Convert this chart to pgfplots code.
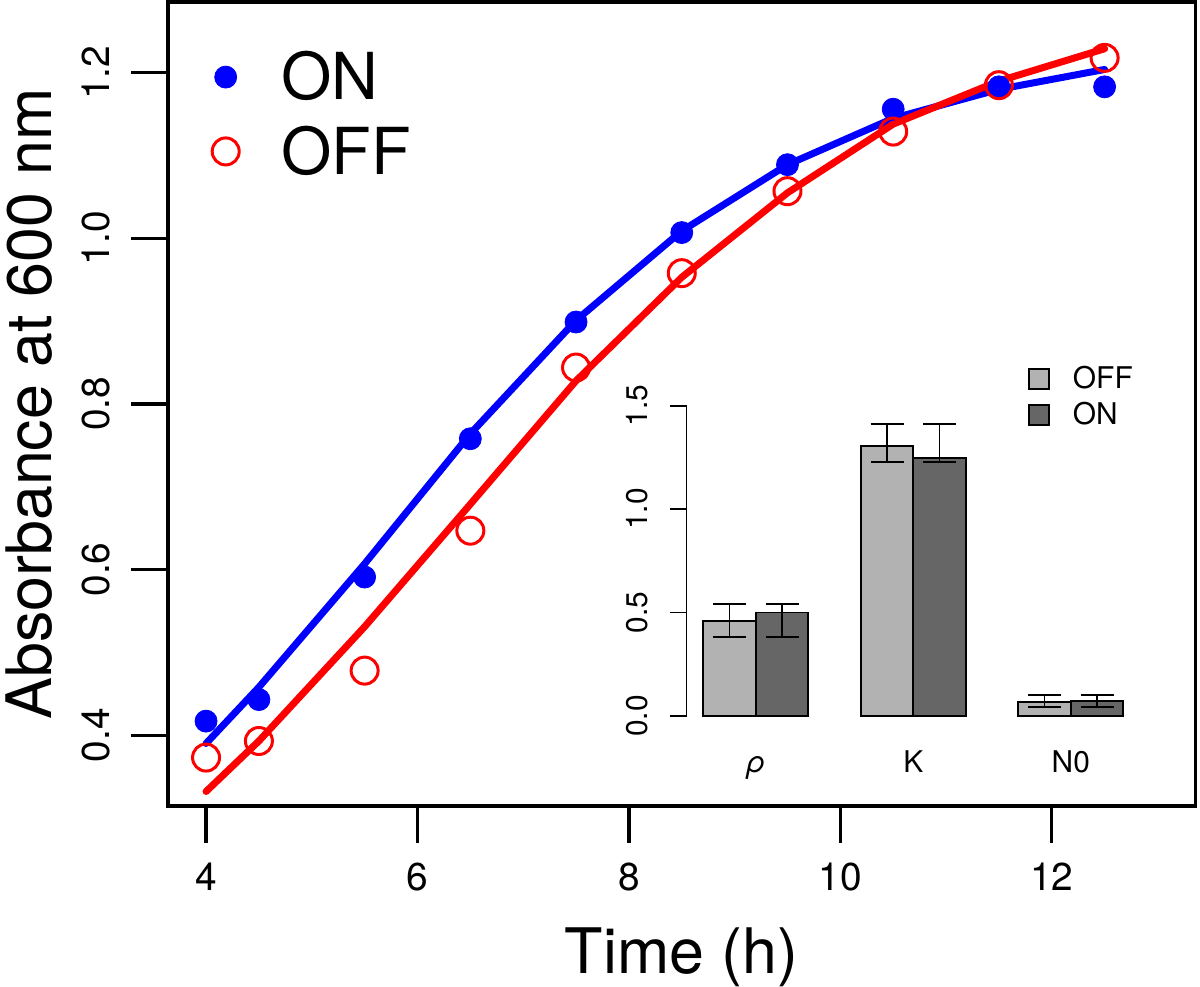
\documentclass[border=0pt]{standalone}
\usepackage{fontspec}
\setmainfont{TeX Gyre Heros}
\usepackage{pgfplots}
\pgfplotsset{compat=1.18}
\definecolor{offgray}{gray}{0.70}
\definecolor{ongray}{gray}{0.40}
\definecolor{rblue}{RGB}{0,0,255}
\definecolor{rred}{RGB}{255,0,0}
\begin{document}
\begin{tikzpicture}[x=1bp,y=1bp]
\path[use as bounding box] (-84,-90.5) rectangle (516,403);
\begin{axis}[
  at={(0bp,0bp)}, anchor=south west,
  scale only axis, width=513.75bp, height=402bp,
  xmin=3.64, xmax=13.36, ymin=0.3145, ymax=1.2855,
  xtick={4,6,8,10,12}, ytick={0.4,0.6,0.8,1.0,1.2},
  xtick pos=lower, ytick pos=left,
  tick align=outside, major tick length=18.5bp,
  axis line style={line width=1.6bp},
  every tick/.style={black, line width=1.6bp},
  tick label style={font=\fontsize{19.5}{22}\selectfont},
  /pgf/number format/assume math mode=true,
  yticklabel={\pgfmathprintnumber[fixed,fixed zerofill,precision=1]{\tick}},
  yticklabel style={rotate=90, anchor=south, inner sep=0pt},
  xticklabel style={anchor=north, inner sep=0pt},
  xticklabel shift=10bp, yticklabel shift=10.5bp,
  xlabel={Time (h)}, ylabel={Absorbance at 600 nm},
  label style={font=\fontsize{31.5}{36}\selectfont},
  xlabel style={at={(axis description cs:0.5,0)}, anchor=base, yshift=-83.5bp},
  ylabel style={at={(axis description cs:-0.1119,0.5)}, anchor=south, inner sep=0pt},
  legend style={at={(axis description cs:0.03,0.985)}, anchor=north west, draw=none, fill=none,
     xshift=1.5bp, yshift=-14.5bp,
     font=\fontsize{32.5}{36}\selectfont, row sep=7.5bp},
  legend cell align=left,
  legend image code/.code={\path (-8bp,0bp) (25bp,0bp); \draw[mark repeat=2,mark phase=2,#1] plot coordinates {(-1bp,0bp) (0bp,0bp) (1bp,0bp)};},
  clip=false,
]
\addplot[only marks, mark=*, mark size=5.5bp, color=rblue] coordinates {
 (4,0.417) (4.5,0.443) (5.5,0.591) (6.5,0.758) (7.5,0.899) (8.5,1.007) (9.5,1.089) (10.5,1.156) (11.5,1.183) (12.5,1.183)};
\addlegendentry{ON}
\addplot[forget plot, color=rblue, line width=3.5bp, line cap=round, line join=round] coordinates {
 (4,0.390) (4.5,0.458) (5.5,0.607) (6.5,0.764) (7.5,0.901) (8.5,1.009) (9.5,1.089) (10.5,1.145) (11.5,1.180) (12.5,1.204)};
\addplot[only marks, mark=o, mark size=6.75bp, color=rred, line width=1.5bp] coordinates {
 (4,0.373) (4.5,0.393) (5.5,0.478) (6.5,0.647) (7.5,0.844) (8.5,0.958) (9.5,1.057) (10.5,1.129) (11.5,1.185) (12.5,1.218)};
\addlegendentry{OFF}
\addplot[forget plot, color=rred, line width=3.5bp, line cap=round, line join=round] coordinates {
 (4,0.332) (4.5,0.393) (5.5,0.531) (6.5,0.679) (7.5,0.828) (8.5,0.953) (9.5,1.055) (10.5,1.138) (11.5,1.190) (12.5,1.229)};
\end{axis}
\begin{axis}[
  at={(259.25bp,45bp)}, anchor=south west,
  scale only axis, width=226.8bp, height=155.15bp,
  xmin=0.68, xmax=9.32, ymin=0, ymax=1.5,
  axis y line*=left, axis x line*=bottom,
  x axis line style={draw=none}, xtick style={draw=none},
  y axis line style={line width=0.9bp},
  ytick={0,0.5,1.0,1.5}, ytick style={black, line width=0.9bp},
  tick align=outside, major tick length=8.3bp,
  tick label style={font=\fontsize{15}{17}\selectfont},
  /pgf/number format/assume math mode=true,
  yticklabel={\pgfmathprintnumber[fixed,fixed zerofill,precision=1]{\tick}},
  yticklabel style={rotate=90, anchor=south, inner sep=0pt},
  yticklabel shift=11bp,
  xtick={2,5,8}, xticklabels={\textit{ρ},K,N0},
  xticklabel style={font=\fontsize{15}{17}\selectfont, anchor=base, yshift=-20bp},
  legend style={at={(axis cs:7.2,1.75)}, anchor=north west, draw=none, fill=none,
     xshift=-3.5bp, yshift=-2bp,
     font=\fontsize{15}{17}\selectfont, row sep=1.5bp},
  legend cell align=left,
  legend image code/.code={\draw[#1] (0bp,-5bp) rectangle (10bp,5bp); \path (19.5bp,0bp);},
  clip=false,
]
\addplot[ybar, bar width=1, bar shift=0, fill=offgray, draw=black, line width=0.9bp,
  error bars/.cd, y dir=both, y explicit,
  error bar style={line width=0.9bp, black},
  error mark options={rotate=90, mark size=8.25bp, line width=0.9bp, black}]
  coordinates {(1.5,0.459) += (0,0.082) -= (0,0.076)
               (4.5,1.305) += (0,0.106) -= (0,0.076)
               (7.5,0.069) += (0,0.0325) -= (0,0.0255)};
\addlegendentry{OFF}
\addplot[ybar, bar width=1, bar shift=0, fill=ongray, draw=black, line width=0.9bp,
  error bars/.cd, y dir=both, y explicit,
  error bar style={line width=0.9bp, black},
  error mark options={rotate=90, mark size=8.25bp, line width=0.9bp, black}]
  coordinates {(2.5,0.500) += (0,0.041) -= (0,0.117)
               (5.5,1.246) += (0,0.165) -= (0,0.017)
               (8.5,0.074) += (0,0.0275) -= (0,0.0305)};
\addlegendentry{ON}
\end{axis}
\end{tikzpicture}
\end{document}
